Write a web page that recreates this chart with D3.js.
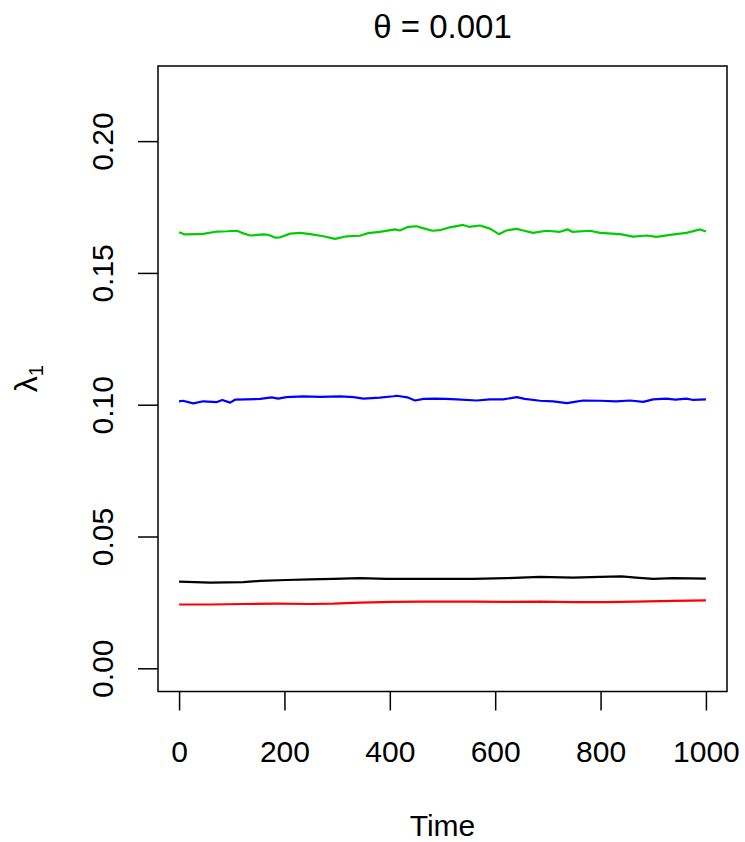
<!DOCTYPE html>
<html>
<head>
<meta charset="utf-8">
<script src="https://cdn.jsdelivr.net/npm/d3@7"></script>
<style>
  body { margin: 0; background: #fff; }
  svg text { font-family: "Liberation Sans", Arial, sans-serif; fill: #000; }
</style>
</head>
<body>
<div id="chart"></div>
<script>
// data (time, lambda_1)
var greenT = [0, 11, 34, 46, 72, 91, 110, 119, 135, 160, 170, 182, 192, 211, 230, 249, 274, 296, 318, 343, 359, 381, 410, 419, 435, 451, 461, 481, 495, 514, 539, 550, 571, 590, 607, 621, 641, 651, 672, 697, 723, 738, 746, 780, 799, 837, 862, 888, 906, 932, 963, 989, 1000]
var greenV = [0.1654, 0.1646, 0.1647, 0.1648, 0.1657, 0.1658, 0.1660, 0.1652, 0.1642, 0.1646, 0.1644, 0.1634, 0.1635, 0.1649, 0.1652, 0.1647, 0.1639, 0.1629, 0.1639, 0.1641, 0.1651, 0.1656, 0.1665, 0.1661, 0.1675, 0.1677, 0.1671, 0.1660, 0.1662, 0.1673, 0.1682, 0.1675, 0.1680, 0.1668, 0.1647, 0.1661, 0.1667, 0.1662, 0.1652, 0.1660, 0.1656, 0.1665, 0.1656, 0.1660, 0.1652, 0.1647, 0.1638, 0.1642, 0.1637, 0.1644, 0.1652, 0.1665, 0.1657]

var blueT = [0, 7, 27, 46, 72, 82, 97, 106, 128, 154, 176, 188, 204, 236, 268, 306, 331, 350, 381, 407, 413, 433, 448, 464, 486, 506, 527, 565, 590, 615, 641, 656, 685, 710, 736, 748, 767, 799, 830, 856, 881, 900, 925, 942, 963, 976, 1000]
var blueV = [0.1013, 0.1015, 0.1005, 0.1013, 0.1010, 0.1018, 0.1008, 0.1019, 0.1020, 0.1022, 0.1028, 0.1023, 0.1029, 0.1032, 0.1030, 0.1032, 0.1029, 0.1023, 0.1027, 0.1032, 0.1034, 0.1028, 0.1016, 0.1022, 0.1023, 0.1022, 0.1020, 0.1016, 0.1020, 0.1020, 0.1029, 0.1022, 0.1015, 0.1013, 0.1006, 0.1010, 0.1016, 0.1015, 0.1013, 0.1016, 0.1011, 0.1020, 0.1023, 0.1019, 0.1023, 0.1018, 0.1020]

var blackT = [0, 59, 122, 154, 204, 249, 293, 343, 394, 457, 514, 558, 621, 685, 748, 799, 840, 867, 900, 938, 1000]
var blackV = [0.0329, 0.0325, 0.0327, 0.0332, 0.0335, 0.0337, 0.0339, 0.0342, 0.0339, 0.0339, 0.0339, 0.0339, 0.0342, 0.0347, 0.0344, 0.0347, 0.0349, 0.0344, 0.0339, 0.0342, 0.0340]

var redT = [0, 59, 122, 185, 249, 293, 343, 407, 457, 514, 558, 621, 685, 748, 811, 867, 938, 1000]
var redV = [0.0242, 0.0242, 0.0244, 0.0245, 0.0244, 0.0245, 0.0249, 0.0252, 0.0253, 0.0253, 0.0253, 0.0252, 0.0253, 0.0251, 0.0251, 0.0253, 0.0256, 0.0258]

var xTicks = [0, 200, 400, 600, 800, 1000]
var yTicks = [0, 0.05, 0.10, 0.15, 0.20]

// plot region (R style, 4% padding on each side)
var box = { left: 158, right: 727, top: 66, bottom: 691.5 }

var svg = d3.select("#chart")
  .append("svg")
  .attr("width", 745)
  .attr("height", 842)

var x = d3.scaleLinear().domain([-40, 1040]).range([box.left, box.right])
var y = d3.scaleLinear().domain([-0.0088, 0.2285]).range([box.bottom, box.top])

// x axis
var xAxis = svg.append("g")
  .attr("transform", "translate(0," + box.bottom + ")")
  .call(d3.axisBottom(x).tickValues(xTicks).tickSize(19).tickSizeOuter(0).tickFormat(d3.format("d")))
xAxis.select(".domain").remove()
xAxis.selectAll("line").attr("stroke", "#000").attr("stroke-width", 1.5)
xAxis.selectAll("text")
  .attr("y", 70).attr("dy", 0)
  .style("font-size", "30px")

// y axis, labels turned like R's las = 0
var yAxis = svg.append("g")
  .attr("transform", "translate(" + box.left + ",0)")
  .call(d3.axisLeft(y).tickValues(yTicks).tickSize(20).tickSizeOuter(0).tickFormat(d3.format(".2f")))
yAxis.select(".domain").remove()
yAxis.selectAll("line").attr("stroke", "#000").attr("stroke-width", 1.5)
yAxis.selectAll("text")
  .attr("x", 0).attr("dy", 0)
  .attr("text-anchor", "middle")
  .attr("transform", "translate(-45,0) rotate(-90)")
  .style("font-size", "30px")

// the series
var line = d3.line()
  .x(function(d) { return x(d[0]) })
  .y(function(d) { return y(d[1]) })

var series = [
  { t: blackT, v: blackV, col: "#000000" },
  { t: redT, v: redV, col: "#FF0000" },
  { t: greenT, v: greenV, col: "#00CD00" },
  { t: blueT, v: blueV, col: "#0000FF" }
]

series.forEach(function(s) {
  svg.append("path")
    .datum(d3.zip(s.t, s.v))
    .attr("fill", "none")
    .attr("stroke", s.col)
    .attr("stroke-width", 2.2)
    .attr("stroke-linejoin", "round")
    .attr("d", line)
})

// box
svg.append("rect")
  .attr("x", box.left).attr("y", box.top)
  .attr("width", box.right - box.left).attr("height", box.bottom - box.top)
  .attr("fill", "none")
  .attr("stroke", "#000")
  .attr("stroke-width", 1.5)

// title
svg.append("text")
  .attr("x", (box.left + box.right) / 2)
  .attr("y", 38)
  .attr("text-anchor", "middle")
  .style("font-size", "33px")
  .text("\u03B8 = 0.001")

// x label
svg.append("text")
  .attr("x", (box.left + box.right) / 2)
  .attr("y", 836)
  .attr("text-anchor", "middle")
  .style("font-size", "30px")
  .text("Time")

// y label: lambda with subscript 1
var ylab = svg.append("text")
  .attr("transform", "translate(37," + ((box.top + box.bottom) / 2) + ") rotate(-90)")
  .attr("text-anchor", "middle")
  .style("font-size", "32px")
ylab.append("tspan").text("\u03BB")
ylab.append("tspan").attr("dy", 6).style("font-size", "20px").text("1")
</script>
</body>
</html>
